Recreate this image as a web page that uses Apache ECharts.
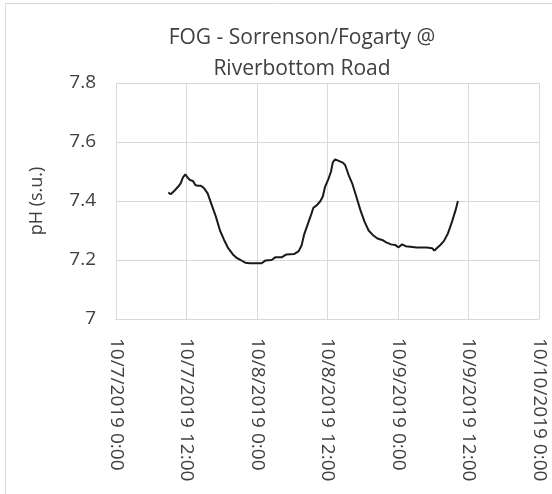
<!DOCTYPE html>
<html><head><meta charset="utf-8">
<script src="https://cdn.jsdelivr.net/npm/echarts@6/dist/echarts.min.js"></script>
<style>html,body{margin:0;padding:0;background:#fff}#c{width:552px;height:494px}</style>
</head><body><div id="c"></div>
<script>
// hours after 10/7/2019 0:00
const hours = [8.9,9.3,9.9,10.6,11.0,11.4,11.8,12.2,12.6,13.1,13.5,13.9,14.4,15.0,15.6,16.3,17.0,17.7,18.4,19.1,19.9,20.6,21.2,22.0,22.8,24.0,24.8,25.4,26.5,27.1,28.2,29.0,30.3,31.1,31.6,32.0,32.6,33.2,33.6,34.2,34.8,35.2,35.6,36.2,36.6,36.9,37.3,37.9,38.6,39.0,39.6,40.2,40.9,41.6,42.3,43.0,43.7,44.5,45.3,46.0,46.8,47.5,48.1,48.7,49.3,49.6,51.2,52.9,53.8,54.2,54.6,55.2,55.8,56.5,57.2,57.8,58.2];
const ph = [7.429,7.423,7.434,7.449,7.46,7.48,7.49,7.479,7.471,7.468,7.454,7.452,7.452,7.443,7.426,7.386,7.347,7.30,7.268,7.24,7.219,7.206,7.20,7.191,7.189,7.189,7.189,7.198,7.20,7.209,7.209,7.219,7.22,7.23,7.25,7.285,7.319,7.353,7.377,7.386,7.40,7.415,7.449,7.477,7.50,7.531,7.541,7.536,7.53,7.522,7.488,7.46,7.415,7.369,7.33,7.30,7.285,7.273,7.268,7.26,7.253,7.251,7.243,7.253,7.247,7.242,7.242,7.242,7.24,7.232,7.24,7.251,7.264,7.29,7.33,7.369,7.40];
const xTickLabels = ['10/7/2019 0:00','10/7/2019 12:00','10/8/2019 0:00','10/8/2019 12:00','10/9/2019 0:00','10/9/2019 12:00','10/10/2019 0:00'];
const yTicks = [7, 7.2, 7.4, 7.6, 7.8];

const font = '"Open Sans", "Liberation Sans", sans-serif';
const txt = '#404040';
const chart = echarts.init(document.getElementById('c'), null, {renderer:'canvas'});
chart.setOption({
  animation:false,
  backgroundColor:'#fff',
  graphic:[{type:'rect', shape:{x:5.5,y:3.5,width:700,height:700}, style:{fill:'none', stroke:'#d9d9d9', lineWidth:1}, silent:true}],
  title:{
    text:'FOG - Sorrenson/Fogarty @\nRiverbottom Road',
    left:297, top:18, textAlign:'center',
    textStyle:{fontFamily:font, fontSize:21, fontWeight:'normal', color:txt, lineHeight:31}
  },
  grid:{left:116, right:13, top:83, bottom:175, containLabel:false},
  xAxis:{
    type:'value', min:0, max:72, interval:12,
    axisLine:{show:true, lineStyle:{color:'#d9d9d9'}},
    axisTick:{show:false},
    splitLine:{show:true, lineStyle:{color:'#d9d9d9'}},
    axisLabel:{rotate:-90, margin:19, color:txt, fontFamily:font, fontSize:19,
      formatter:function(v){return xTickLabels[Math.round(v/12)];}}
  },
  yAxis:{
    type:'value', min:yTicks[0], max:yTicks[yTicks.length-1], interval:0.2,
    name:'pH (s.u.)', nameLocation:'middle', nameGap:70, nameRotate:90,
    nameTextStyle:{color:txt, fontFamily:font, fontSize:18},
    axisLine:{show:false}, axisTick:{show:false},
    splitLine:{show:true, lineStyle:{color:'#d9d9d9'}},
    axisLabel:{margin:20, color:txt, fontFamily:font, fontSize:19,
      formatter:function(v){return String(parseFloat(v.toFixed(1)));}}
  },
  series:[{
    type:'line', data:hours.map((h,i)=>[h, ph[i]]), showSymbol:false, smooth:false,
    lineStyle:{color:'#1a1a1a', width:2}
  }]
});
</script></body></html>
